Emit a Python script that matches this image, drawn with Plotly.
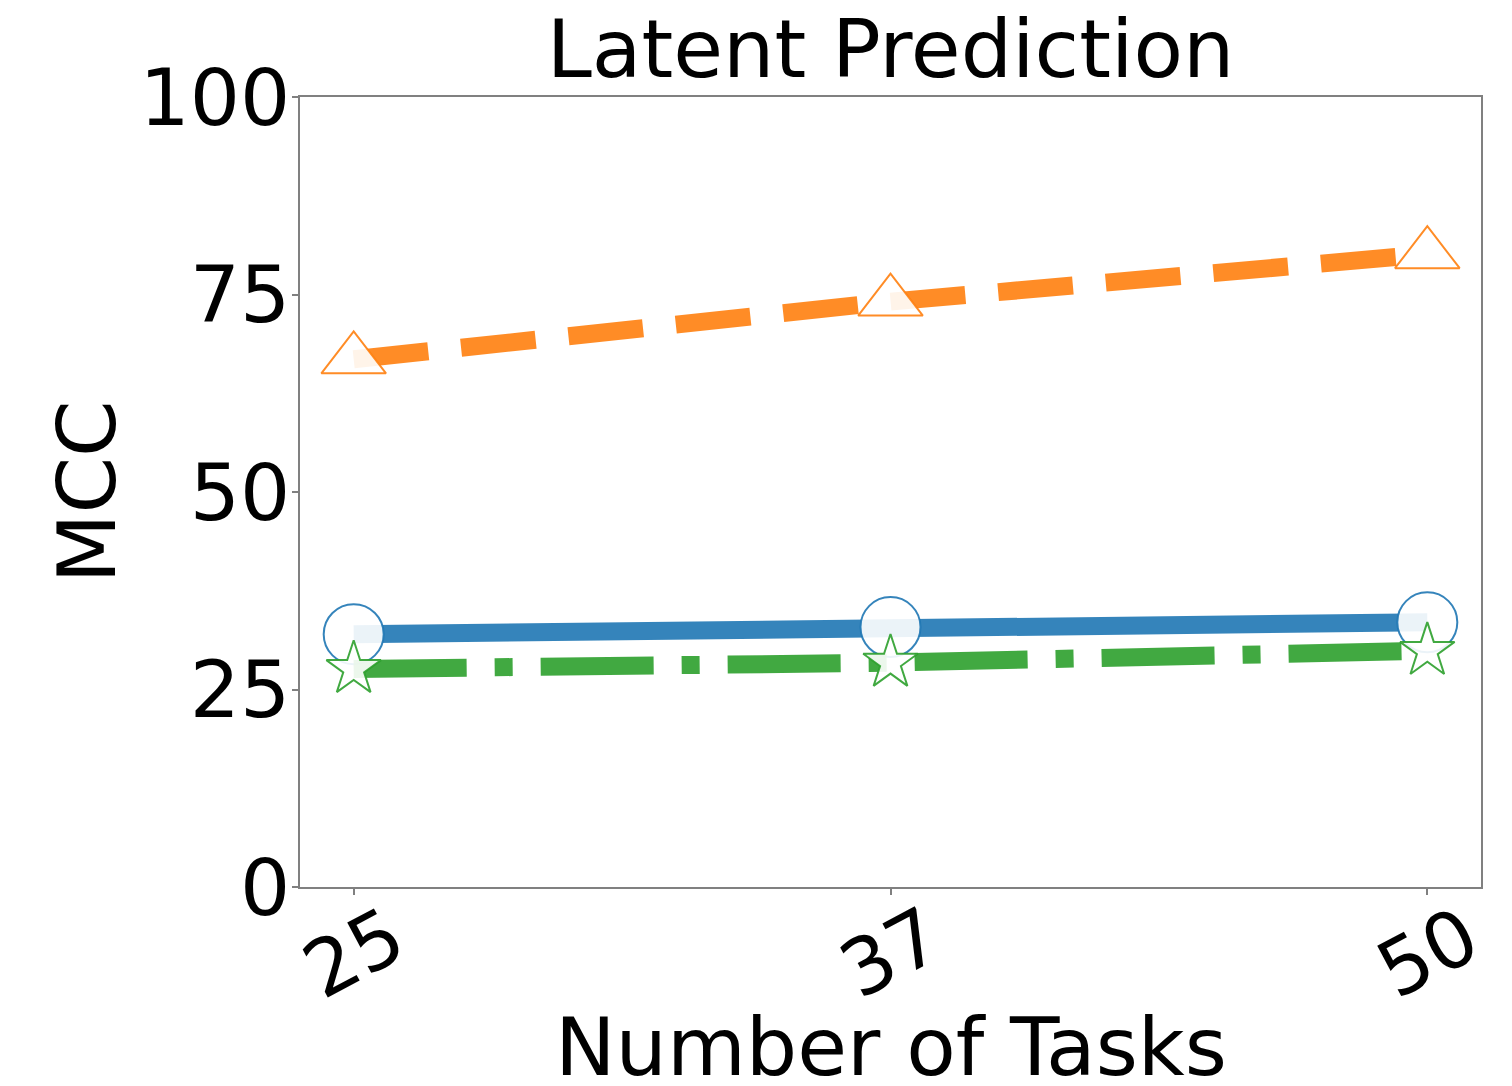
import plotly.graph_objects as go

# Number of tasks (categorical x positions)
tasks = ["25", "37", "50"]
tick_labels = ["25", "37", "50"]

# MCC scores for each method
mcc_blue = [32.0, 32.9, 33.5]
mcc_orange = [66.8, 74.1, 80.1]
mcc_green = [27.6, 28.4, 29.9]

y_ticks = [0, 25, 50, 75, 100]

FONT = "DejaVu Sans"

series = [
    dict(y=mcc_blue, color="rgba(31,119,180,0.9)", dash="solid", symbol="circle", size=60),
    dict(y=mcc_orange, color="rgba(255,127,14,0.9)", dash="75px,33px", symbol="triangle-up", size=56),
    dict(y=mcc_green, color="rgba(44,160,44,0.9)", dash="113px,28px,18px,28px", symbol="star", size=41),
]

fig = go.Figure()
for s in series:
    fig.add_trace(go.Scatter(
        x=tasks, y=s["y"], mode="lines+markers",
        line=dict(color=s["color"], width=18, dash=s["dash"]),
        marker=dict(symbol=s["symbol"], size=s["size"],
                    color="rgba(255,255,255,0.9)",
                    line=dict(color=s["color"], width=2)),
        showlegend=False,
    ))

# Rotated x tick labels centred under each tick (x given as category index)
for i, lab in enumerate(tick_labels):
    fig.add_annotation(
        x=i, xref="x", y=0, yref="paper", text=lab, showarrow=False,
        textangle=-28, xanchor="center", yanchor="top", yshift=0,
        font=dict(family=FONT, size=78, color="black"),
    )

# Axis titles
fig.add_annotation(
    x=0.5, xref="paper", y=-(1047 - 887) / 790, yref="paper",
    text="Number of Tasks", showarrow=False,
    xanchor="center", yanchor="middle",
    font=dict(family=FONT, size=81, color="black"),
)
fig.add_annotation(
    x=-0.18, xref="paper", y=0.5, yref="paper", text="MCC", showarrow=False,
    textangle=-90, xanchor="center", yanchor="middle",
    font=dict(family=FONT, size=81, color="black"),
)

fig.update_layout(
    width=1512, height=1086,
    margin=dict(l=300, r=31, t=97, b=199),
    paper_bgcolor="white", plot_bgcolor="white",
    font=dict(family=FONT, color="black"),
    title=dict(text="Latent Prediction", x=0.5, xref="paper", xanchor="center",
               y=1 - 49 / 1086, yref="container", yanchor="middle",
               font=dict(family=FONT, size=81, color="black")),
)

fig.update_xaxes(
    type="category", range=[-0.1, 2.1],
    showline=True, mirror=True, linecolor="#808080", linewidth=2,
    ticks="outside", ticklen=6, tickcolor="#808080", tickwidth=2,
    showticklabels=False, showgrid=False, zeroline=False,
)

fig.update_yaxes(
    range=[0, 100], tickvals=y_ticks, ticktext=[str(v) for v in y_ticks],
    showline=True, mirror=True, linecolor="#808080", linewidth=2,
    ticks="outside", ticklen=6, tickcolor="#808080", tickwidth=2,
    ticklabelstandoff=-14,
    tickfont=dict(family=FONT, size=79, color="black"),
    showgrid=False, zeroline=False,
)

fig.write_html("out.html")
